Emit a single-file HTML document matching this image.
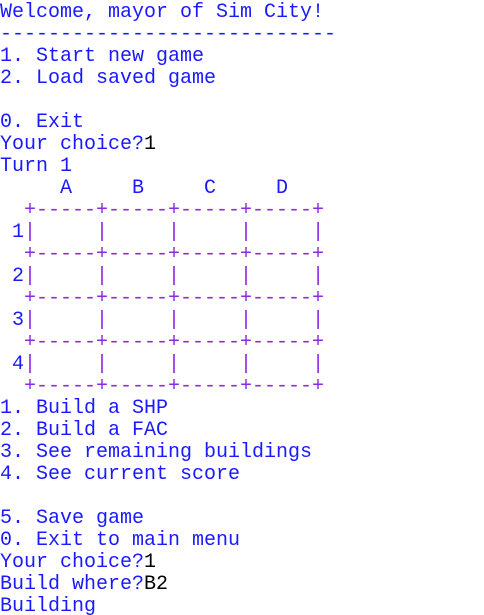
<!DOCTYPE html>
<html><head><style>
html,body{margin:0;padding:0;background:#fff;width:484px;height:615px;overflow:hidden}
pre{margin:0;padding:2px 0 0 0;font-family:"Liberation Mono","Courier New",monospace;font-size:20px;line-height:22px;color:#1a1aff;white-space:pre}
.g{color:#8a2be2}
.k{color:#000}
</style></head><body><pre>Welcome, mayor of Sim City!
----------------------------
1. Start new game
2. Load saved game

0. Exit
Your choice?<span class="k">1</span>
Turn 1
     A     B     C     D
<span class="g">  +-----+-----+-----+-----+</span>
 1<span class="g">|     |     |     |     |</span>
<span class="g">  +-----+-----+-----+-----+</span>
 2<span class="g">|     |     |     |     |</span>
<span class="g">  +-----+-----+-----+-----+</span>
 3<span class="g">|     |     |     |     |</span>
<span class="g">  +-----+-----+-----+-----+</span>
 4<span class="g">|     |     |     |     |</span>
<span class="g">  +-----+-----+-----+-----+</span>
1. Build a SHP
2. Build a FAC
3. See remaining buildings
4. See current score

5. Save game
0. Exit to main menu
Your choice?<span class="k">1</span>
Build where?<span class="k">B2</span>
Building</pre></body></html>
